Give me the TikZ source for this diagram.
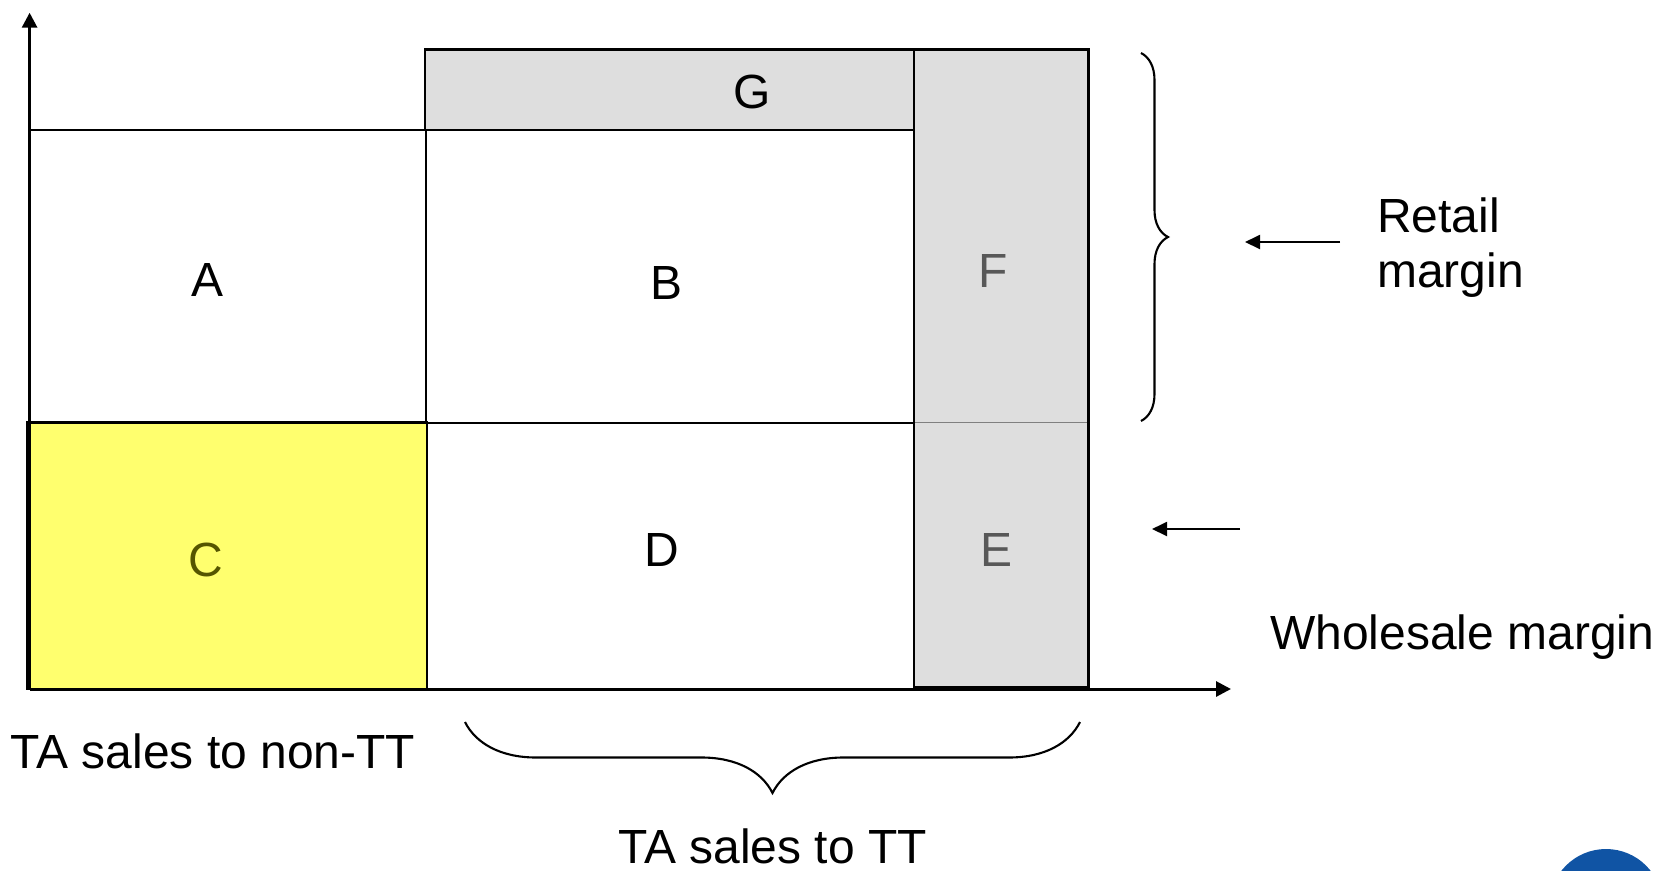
\documentclass[tikz,border=0pt]{standalone}
\usepackage{fontspec}
\setmainfont{Liberation Sans}
\usepackage{xcolor}
\usetikzlibrary{arrows.meta,decorations.pathreplacing,positioning}
\definecolor{shadegray}{RGB}{222,222,222}
\definecolor{tayellow}{RGB}{255,255,110}
\definecolor{oliveink}{RGB}{85,85,0}
\definecolor{grayink}{RGB}{88,88,88}
\definecolor{logoblue}{RGB}{16,84,164}

\begin{document}
\begin{tikzpicture}[x=0.02cm, y=-0.02cm,
    box/.style={draw=black, line width=1pt},
    thickbox/.style={draw=black, line width=1.5pt},
    axis/.style={-{Triangle[length=0.3cm,width=0.3cm]}, line width=1.7pt},
    pointer/.style={-{Triangle[length=0.3cm,width=0.28cm]}, line width=1.1pt},
    bracket/.style={line width=1.2pt, decorate},
    lbl/.style={font=\fontsize{27.3}{32}\selectfont, inner sep=0pt}]
    \useasboundingbox (0,0) rectangle (1657,870);

    % Boxes
    \draw[box] (29.6,130) rectangle (426,422.7);
    \draw[box] (426,130) rectangle (914,422.7);
    \draw[box] (426,422.7) rectangle (914,689);
    \draw[thickbox, fill=shadegray] (425,49.7) rectangle (914,130);
    \fill[shadegray] (914,49.7) rectangle (1088.5,687);
    \draw[gray, line width=0.6pt] (914,422.7) -- (1088.5,422.7);
    \draw[thickbox] (914,49.7) rectangle (1088.5,687);
    \draw[thickbox, fill=tayellow] (27.5,422.7) rectangle (427,689);

    % Axes
    \draw[axis] (29.6,689) -- (29.6,12.7);
    \draw[axis] (29.6,689) -- (1231,689);

    % Box labels
    \node[lbl] (lblA) at (207,280) {A};
    \node[lbl] (lblB) at (666,283) {B};
    \node[lbl] (lblG) at (752,92) {G};
    \node[lbl, grayink] (lblF) at (993,270.5) {F};
    \node[lbl, oliveink] (lblC) at (206,560) {C};
    \node[lbl] (lblD) at (661.5,549.5) {D};
    \node[lbl, grayink] (lblE) at (996.5,549.5) {E};

    % Braces
    \draw[bracket, decoration={brace, amplitude=0.54cm}] (1141,53) -- (1141,421);
    \draw[bracket, decoration={brace, amplitude=1.42cm}] (1080,722) -- (465,722);

    % Margin labels
    \node[lbl, anchor=base west] (retail) at (1377,232.5) {Retail};
    \node[lbl, anchor=base west] (retailm) at (1377,287) {margin};
    \node[lbl, anchor=base west] (wholesale) at (1270,649) {Wholesale margin};
    \coordinate (rtail) at (1340,242);
    \coordinate (rhead) at (1245,242);
    \coordinate (wtail) at (1240,529);
    \coordinate (whead) at (1152,529);
    \draw[pointer] (rtail) -- (rhead);
    \draw[pointer] (wtail) -- (whead);

    % Sales labels
    \node[lbl, anchor=base west] (nontt) at (10.6,768) {TA sales to non-TT};
    \node[lbl, anchor=base] (tt) at (772.5,863) {TA sales to TT};

    % Logo corner
    \fill[logoblue] (1606,905.6) circle (56.6);
\end{tikzpicture}
\end{document}
